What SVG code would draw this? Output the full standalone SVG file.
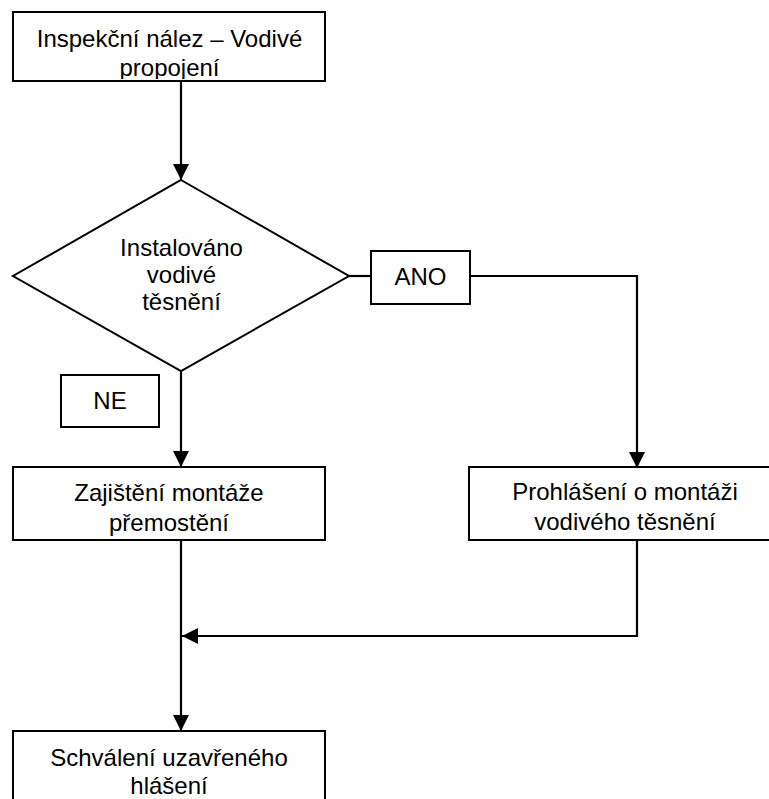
<svg xmlns="http://www.w3.org/2000/svg" width="769" height="799" viewBox="0 0 769 799">
<style>
.box{fill:#fff;stroke:#000;stroke-width:2}
.t{font-family:"Liberation Sans",Arial,sans-serif;font-size:24px;fill:#000;text-anchor:middle}
.c{fill:none;stroke:#000;stroke-width:2.2}
</style>
<defs>
<marker id="ah" markerWidth="16" markerHeight="16" viewBox="0 0 16 16" refX="16" refY="8" orient="auto" markerUnits="userSpaceOnUse">
<path d="M0,0 L16,8 L0,16 Z" fill="#000"/>
</marker>
<clipPath id="c1"><rect x="14" y="13" width="310" height="66"/></clipPath>
<clipPath id="c3"><rect x="14" y="468" width="310" height="70"/></clipPath>
<clipPath id="c4"><rect x="470" y="468" width="310" height="71"/></clipPath>
<clipPath id="c5"><rect x="14" y="732" width="310" height="67"/></clipPath>
</defs>
<g id="connectors">
<path class="c" d="M181,81 V180" marker-end="url(#ah)"/>
<path class="c" d="M181,371 V467" marker-end="url(#ah)"/>
<path class="c" d="M349,276 H371"/>
<path class="c" d="M470,276 H637 V468" marker-end="url(#ah)"/>
<path class="c" d="M637,540 V636 H182" marker-end="url(#ah)"/>
<path class="c" d="M181,540 V731" marker-end="url(#ah)"/>
</g>
<g id="n1">
<rect class="box" x="13" y="12" width="312" height="69"/>
<g clip-path="url(#c1)">
<text class="t" x="169.5" y="47">Inspekční nález – Vodivé</text>
<text class="t" x="169.5" y="76">propojení</text>
</g>
</g>
<g id="n2">
<polygon class="box" points="181,180 349,276 181,371 13,276"/>
<text class="t" x="181.5" y="256">Instalováno</text>
<text class="t" x="181.5" y="283">vodivé</text>
<text class="t" x="181.5" y="310">těsnění</text>
</g>
<g id="ano">
<rect class="box" x="371" y="251" width="99" height="53"/>
<text class="t" x="420.5" y="285">ANO</text>
</g>
<g id="ne">
<rect class="box" x="61" y="375" width="98" height="52"/>
<text class="t" x="110" y="409">NE</text>
</g>
<g id="n3">
<rect class="box" x="13" y="467" width="312" height="73"/>
<g clip-path="url(#c3)">
<text class="t" x="169" y="501">Zajištění montáže</text>
<text class="t" x="169" y="531">přemostění</text>
</g>
</g>
<g id="n4">
<rect class="box" x="469" y="467" width="312" height="73"/>
<g clip-path="url(#c4)">
<text class="t" x="625" y="500">Prohlášení o montáži</text>
<text class="t" x="625" y="530">vodivého těsnění</text>
</g>
</g>
<g id="n5">
<rect class="box" x="13" y="731" width="312" height="80"/>
<g clip-path="url(#c5)">
<text class="t" x="169" y="766">Schválení uzavřeného</text>
<text class="t" x="169" y="794">hlášení</text>
</g>
</g>
</svg>
